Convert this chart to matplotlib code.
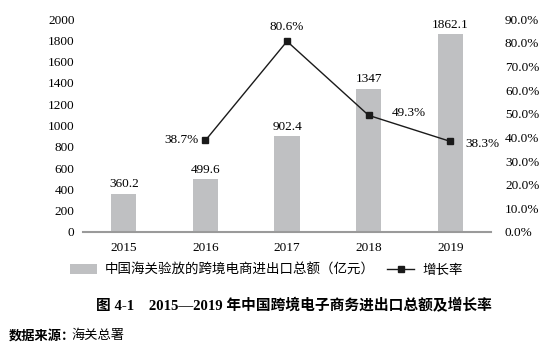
import matplotlib
matplotlib.use("Agg")
import matplotlib.pyplot as plt
from matplotlib.ticker import FuncFormatter

# 数据
years = ["2015", "2016", "2017", "2018", "2019"]
trade_total = [360.2, 499.6, 902.4, 1347, 1862.1]
growth_years = ["2016", "2017", "2018", "2019"]
growth_rate = [38.7, 80.6, 49.3, 38.3]
bar_labels = ["360.2", "499.6", "902.4", "1347", "1862.1"]
left_ticks = list(range(0, 2001, 200))
right_ticks = list(range(0, 91, 10))

FONT = ["Liberation Serif", "Noto Sans CJK SC"]
plt.rcParams["font.family"] = FONT
plt.rcParams["axes.unicode_minus"] = False

BAR_COLOR = "#bfc0c2"
AXIS_COLOR = "#9a9a9a"

fig = plt.figure(figsize=(5.53, 3.44), dpi=100)
ax1 = fig.add_axes([0.150, 0.3256, 0.738, 0.619])
ax2 = ax1.twinx()

x = list(range(len(years)))
bars = ax1.bar(x, trade_total, width=0.31, color=BAR_COLOR, zorder=2,
               label="中国海关验放的跨境电商进出口总额（亿元）")
ax1.set_xlim(-0.5, len(years) - 0.5)
ax1.set_ylim(0, 2000)
ax1.set_yticks(left_ticks)
ax1.set_xticks(x)
ax1.set_xticklabels(years)

for xi, v, s in zip(x, trade_total, bar_labels):
    ax1.text(xi, v + 30, s, ha="center", va="bottom", fontsize=9.5)

gx = [years.index(y) for y in growth_years]
line, = ax2.plot(gx, growth_rate, color="#1a1a1a", lw=1.0, marker="s",
                 markersize=5, zorder=3, label="增长率")
ax2.set_ylim(0, 90)
ax2.set_yticks(right_ticks)
ax2.yaxis.set_major_formatter(FuncFormatter(lambda v, p: f"{v:.1f}%"))

# 增长率标注
offsets = {
    "2016": (-0.08, 0, "right", "center"),
    "2017": (0, 3.5, "center", "bottom"),
    "2018": (0.28, 1.2, "left", "center"),
    "2019": (0.18, -1.2, "left", "center"),
}
for gxi, r, yr in zip(gx, growth_rate, growth_years):
    dx, dy, ha, va = offsets[yr]
    ax2.text(gxi + dx, r + dy, f"{r:.1f}%", ha=ha, va=va, fontsize=9.5)

for ax in (ax1, ax2):
    for side in ("top", "left", "right"):
        ax.spines[side].set_visible(False)
    ax.tick_params(axis="y", length=0, labelsize=9.5)
    ax.tick_params(axis="x", length=0, labelsize=9.5, pad=7)
ax1.spines["bottom"].set_color(AXIS_COLOR)
ax1.spines["bottom"].set_linewidth(1.5)
ax2.spines["bottom"].set_visible(False)
ax1.tick_params(axis="y", pad=6)
ax2.tick_params(axis="y", pad=10)

fig.legend(handles=[bars, line], loc="center", bbox_to_anchor=(0.482, 0.214),
           ncol=2, frameon=False, handlelength=2.0,
           columnspacing=0.9, handletextpad=0.6, prop={"family": FONT, "size": 9.7})

fig.text(0.532, 0.11, "图 4-1　2015—2019 年中国跨境电子商务进出口总额及增长率",
         ha="center", va="center", fontsize=10.6, fontweight="bold")
t1 = fig.text(0.016, 0.024, "数据来源：", ha="left", va="center",
              fontsize=9.5, fontweight="bold")
fig.canvas.draw()
bb = t1.get_window_extent()
fig.text(bb.x1 / fig.bbox.width - 0.006, 0.024, "海关总署", ha="left", va="center", fontsize=9.5)

fig.savefig("out.png", dpi=100)
